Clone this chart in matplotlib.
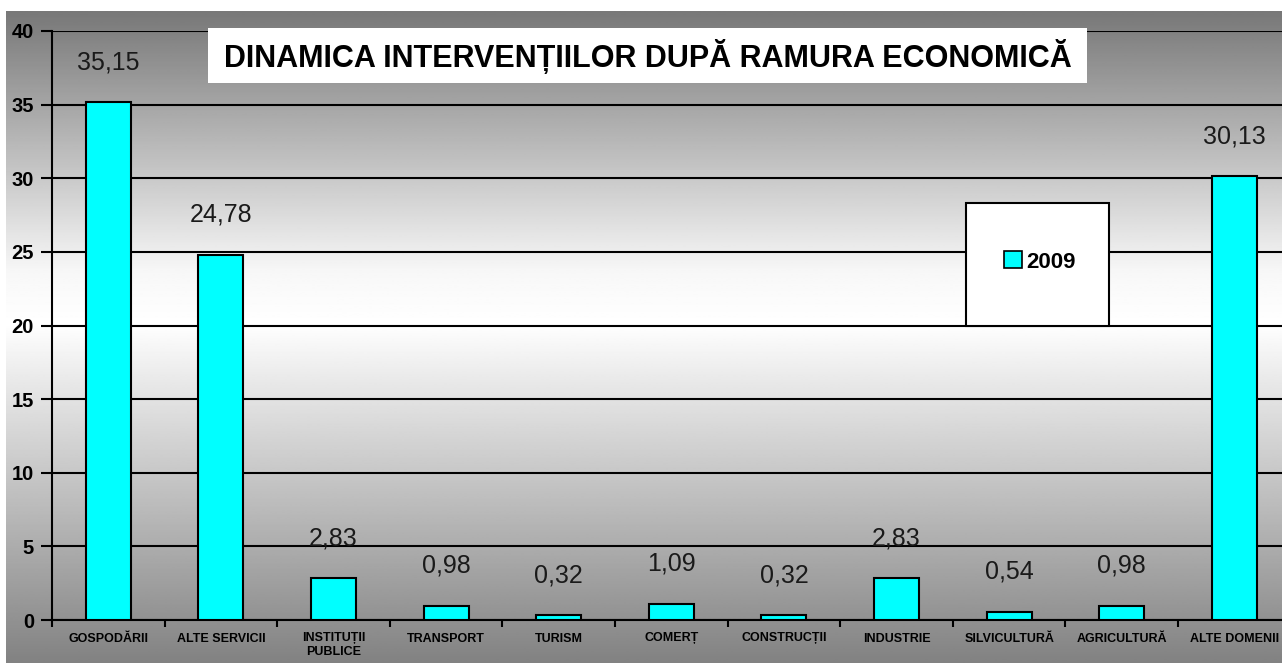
import numpy as np
import matplotlib
matplotlib.use("Agg")
import matplotlib.pyplot as plt
from matplotlib.patches import Rectangle

plt.rcParams['font.family'] = ['Liberation Sans', 'DejaVu Sans']

categories = ['GOSPODĂRII', 'ALTE SERVICII', 'INSTITUȚII\nPUBLICE', 'TRANSPORT', 'TURISM',
              'COMERȚ', 'CONSTRUCȚII', 'INDUSTRIE', 'SILVICULTURĂ', 'AGRICULTURĂ', 'ALTE DOMENII']
values_2009 = [35.15, 24.78, 2.83, 0.98, 0.32, 1.09, 0.32, 2.83, 0.54, 0.98, 30.13]
value_labels = ['35,15', '24,78', '2,83', '0,98', '0,32', '1,09', '0,32', '2,83', '0,54', '0,98', '30,13']
yticks = [0, 5, 10, 15, 20, 25, 30, 35, 40]

W, H = 1282, 663
fig = plt.figure(figsize=(W / 100, H / 100), dpi=100)
fig.patch.set_facecolor('white')

# gradient background (gray - white - gray)
bg = fig.add_axes([6 / W, 0, 1 - 6 / W, (H - 11) / H])
rows = np.linspace(0, 1, 400)
shade = np.interp(rows, [0, 0.45, 0.52, 0.6, 1.0], [0.51, 0.93, 1.0, 0.97, 0.47])
img = np.repeat(shade[:, None], 2, axis=1)
bg.imshow(img, cmap='gray', vmin=0, vmax=1, aspect='auto', origin='lower',
          extent=[0, 1, 0, 1], interpolation='bilinear')
bg.set_axis_off()

left = 52 / W
width = 11 * 112.6 / W
bottom = (H - 620) / H
height = (620 - 31) / H
ax = fig.add_axes([left, bottom, width, height])
ax.patch.set_alpha(0)

x = np.arange(len(categories))
ax.bar(x, values_2009, width=0.4, color='#00FFFF', edgecolor='black', linewidth=1.5,
       zorder=3, label='2009')
for xi, v, lab in zip(x, values_2009, value_labels):
    ax.annotate(lab, (xi, v), xytext=(0, 29), textcoords='offset points',
                ha='center', va='center', fontsize=18, color='#1a1a1a', zorder=4)

ax.set_xlim(-0.5, len(categories) - 0.5)
ax.set_ylim(0, 40)
ax.set_yticks(yticks)
ax.set_yticklabels([str(t) for t in yticks], fontsize=14.5, fontweight='bold')
ax.yaxis.grid(True, color='black', linewidth=1.5, zorder=1)
ax.set_axisbelow(True)
ax.tick_params(axis='y', length=8, width=1.5, pad=5)

ax.set_xticks(x)
ax.set_xticklabels(categories, fontsize=9, fontweight='bold', linespacing=1.15)
ax.set_xticks(np.arange(len(categories) + 1) - 0.5, minor=True)
ax.tick_params(axis='x', which='major', length=0, pad=9)
ax.tick_params(axis='x', which='minor', length=5, width=1.5)

for side in ['top', 'right']:
    ax.spines[side].set_visible(False)
for side in ['left', 'bottom']:
    ax.spines[side].set_linewidth(1.5)

fig.patches.append(Rectangle((208 / W, 1 - 83 / H), (1087 - 208) / W, 55 / H,
                             transform=fig.transFigure, facecolor='white',
                             edgecolor='none', zorder=5))
fig.text(0.5 * (208 + 1087) / W, 1 - 56 / H,
         'DINAMICA INTERVENȚIILOR DUPĂ RAMURA ECONOMICĂ',
         ha='center', va='center', fontsize=22, fontweight='bold', zorder=6)

# legend box
fig.patches.append(Rectangle((966 / W, 1 - 326 / H), (1109 - 966) / W, (326 - 203) / H,
                             transform=fig.transFigure, facecolor='white',
                             edgecolor='black', linewidth=1.5, zorder=5))
leg = fig.legend(*ax.get_legend_handles_labels(), loc='center',
                 bbox_to_anchor=(1040 / W, 1 - 262 / H),
                 frameon=False, prop={'weight': 'bold', 'size': 16},
                 handlelength=0.8, handleheight=0.8, handletextpad=0.2)
leg.set_zorder(7)
for p in leg.get_patches():
    p.set_linewidth(1.2)

fig.savefig('out.png', dpi=100)
